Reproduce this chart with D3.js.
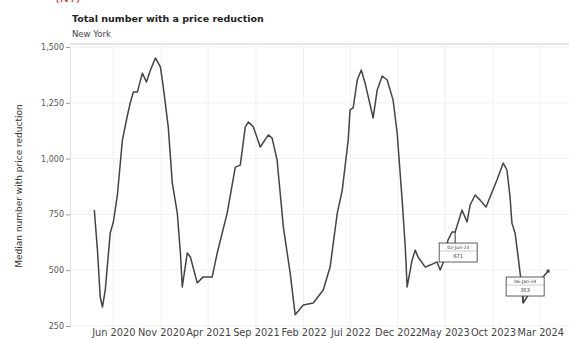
<!DOCTYPE html>
<html><head><meta charset="utf-8">
<script src="https://cdn.jsdelivr.net/npm/d3@7"></script>
<style>
body{margin:0;background:#fff;}
svg{display:block;}
text{font-family:"DejaVu Sans",sans-serif;}
</style></head>
<body>
<svg id="c" width="569" height="339"></svg>
<script>
const dates = ["2020-04-01","2020-04-11","2020-04-20","2020-04-27","2020-05-06","2020-05-22","2020-06-01","2020-06-14","2020-06-30","2020-07-13","2020-07-25","2020-08-04","2020-08-17","2020-09-02","2020-09-15","2020-09-28","2020-10-14","2020-10-30","2020-11-08","2020-11-24","2020-12-07","2020-12-23","2021-01-02","2021-01-08","2021-01-24","2021-02-03","2021-02-25","2021-03-16","2021-04-14","2021-04-30","2021-06-01","2021-06-27","2021-07-13","2021-07-29","2021-08-08","2021-08-24","2021-09-15","2021-10-11","2021-10-23","2021-11-08","2021-11-28","2021-12-20","2022-01-05","2022-01-31","2022-03-04","2022-04-05","2022-04-27","2022-05-20","2022-06-05","2022-06-24","2022-06-30","2022-07-10","2022-07-23","2022-08-05","2022-08-17","2022-09-12","2022-09-25","2022-10-11","2022-10-27","2022-11-15","2022-11-28","2022-12-14","2022-12-24","2022-12-30","2023-01-15","2023-01-25","2023-02-03","2023-02-26","2023-03-14","2023-04-05","2023-04-15","2023-04-24","2023-05-10","2023-05-23","2023-06-02","2023-06-24","2023-07-10","2023-07-20","2023-08-05","2023-08-21","2023-09-09","2023-09-22","2023-10-14","2023-11-03","2023-11-15","2023-11-25","2023-12-01","2023-12-11","2023-12-21","2023-12-30","2024-01-06","2024-01-28","2024-02-23","2024-03-26"];
const values = [770,590,380,335,411,667,716,837,1083,1173,1249,1298,1298,1383,1343,1397,1451,1410,1321,1142,891,756,577,425,577,559,443,470,470,577,756,962,971,1142,1164,1142,1052,1106,1092,994,694,487,300,344,353,411,514,756,859,1083,1218,1227,1352,1397,1339,1182,1307,1370,1352,1262,1115,814,604,425,546,590,559,514,523,537,501,532,635,671,671,770,716,792,837,814,783,828,904,980,949,828,711,667,559,456,353,402,443,496];
const xTickLabels = ["Jun 2020","Nov 2020","Apr 2021","Sep 2021","Feb 2022","Jul 2022","Dec 2022","May 2023","Oct 2023","Mar 2024"];
const xTickDates = ["2020-06-01","2020-11-01","2021-04-01","2021-09-01","2022-02-01","2022-07-01","2022-12-01","2023-05-01","2023-10-01","2024-03-01"];
const yTicks = [250,500,750,1000,1250,1500];
const xDomain = ["2020-01-14","2024-06-01"];
const yDomain = [250,1500];
const annoDates = ["2023-06-02","2024-01-06"];
const annoLabels = ["02-Jun-23","06-Jan-24"];
const annoValues = [671,353];

const parse = d3.timeParse("%Y-%m-%d");
const data = dates.map((d,i)=>({date:parse(d), value:values[i]}));
const svg = d3.select("#c");
const L=70, R=569, T=45, B=326;
const x = d3.scaleTime().domain(xDomain.map(parse)).range([L,R]);
const y = d3.scaleLinear().domain(yDomain).range([B,47]);

// title
svg.append("text").attr("x",55).attr("y",2).attr("fill","#e03030").attr("font-size",12).text("(NY)");
svg.append("text").attr("x",72).attr("y",22).attr("font-size",9.5).attr("font-weight","bold").attr("fill","#222").text("Total number with a price reduction");
svg.append("text").attr("x",72).attr("y",37).attr("font-size",8.5).attr("fill","#444").text("New York");

// grid
const g = svg.append("g");
g.selectAll(".vg").data(xTickDates.map(parse)).join("line")
  .attr("x1",d=>x(d)).attr("x2",d=>x(d)).attr("y1",T).attr("y2",B+2)
  .attr("stroke","#f0f0f0").attr("stroke-width",1);
g.selectAll(".hg").data(yTicks).join("line")
  .attr("x1",L).attr("x2",R).attr("y1",d=>y(d)).attr("y2",d=>y(d))
  .attr("stroke","#f0f0f0").attr("stroke-width",1);
svg.append("line").attr("x1",L).attr("x2",R).attr("y1",T-1).attr("y2",T-1).attr("stroke","#ddd").attr("stroke-width",1.5);

// y axis
const ya = svg.append("g").attr("transform",`translate(${L},0)`)
  .call(d3.axisLeft(y).tickValues(yTicks).tickFormat(d3.format(",")).tickSize(4).tickPadding(2));
ya.select(".domain").attr("stroke","#ddd");
ya.selectAll(".tick line").attr("stroke","#999");
ya.selectAll("text").attr("font-size",8).attr("fill","#555").attr("font-family","DejaVu Sans");

// x axis
const xa = svg.append("g").attr("transform",`translate(0,${B})`)
  .call(d3.axisBottom(x).tickValues(xTickDates.map(parse)).tickFormat((d,i)=>xTickLabels[i]).tickSize(0).tickPadding(3));
xa.select(".domain").remove();
xa.selectAll("text").attr("font-size",9.8).attr("fill","#444").attr("font-family","DejaVu Sans");

// y title
svg.append("text").attr("transform","translate(22,186) rotate(-90)").attr("text-anchor","middle")
  .attr("font-size",9).attr("fill","#333").text("Median number with price reduction");

// line
svg.append("path").datum(data).attr("fill","none").attr("stroke","#444").attr("stroke-width",1.5)
  .attr("stroke-linejoin","round")
  .attr("d",d3.line().x(d=>x(d.date)).y(d=>y(d.value)));

// end marker
const last = data[data.length-1];
svg.append("rect").attr("x",x(last.date)-1.5).attr("y",y(last.value)-1.5).attr("width",3).attr("height",3).attr("fill","#444");

// annotations
const anno = annoDates.map((d,i)=>({date:parse(d), label:annoLabels[i], value:annoValues[i], below:i===0}));
anno.forEach(a=>{
  const px=x(a.date), py=y(a.value);
  const w=38, h=19;
  const bx = a.below ? px-16 : px-17;
  const by = a.below ? py+11 : py-26;
  const pg = svg.append("g");
  pg.append("line").attr("x1",px).attr("x2",px).attr("y1",py).attr("y2",a.below?by:by+h).attr("stroke","#333").attr("stroke-width",1);
  pg.append("rect").attr("x",bx).attr("y",by).attr("width",w).attr("height",h).attr("fill","#fff").attr("stroke","#333").attr("stroke-width",0.8);
  pg.append("line").attr("x1",bx).attr("x2",bx+w).attr("y1",by+8).attr("y2",by+8).attr("stroke","#999").attr("stroke-width",0.5);
  pg.append("text").attr("x",bx+w/2).attr("y",by+6).attr("text-anchor","middle").attr("font-size",4.5).attr("fill","#333").text(a.label);
  pg.append("text").attr("x",bx+w/2).attr("y",by+15).attr("text-anchor","middle").attr("font-size",5).attr("fill","#333").text(d3.format(",")(a.value));
});
</script>
</body></html>
